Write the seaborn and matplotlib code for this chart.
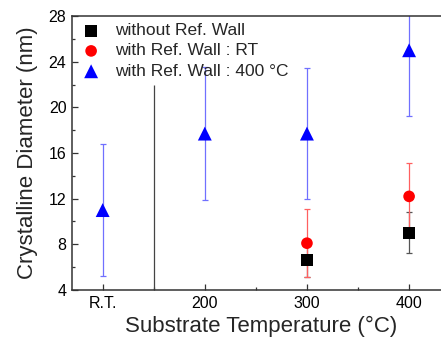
import pandas as pd
import seaborn as sns
import matplotlib.pyplot as plt
from matplotlib.ticker import MultipleLocator, FixedLocator

# data
temp_labels = ['R.T.', '200', '300', '400']
temp_pos = [100, 200, 300, 400]

no_wall_x = [300, 400]
no_wall_y = [6.6, 9.0]
no_wall_err = [1.5, 1.8]

wall_rt_x = [300, 400]
wall_rt_y = [8.1, 12.2]
wall_rt_err = [3.0, 2.95]

wall_400_x = [100, 200, 300, 400]
wall_400_y = [11.0, 17.7, 17.7, 25.0]
wall_400_err = [5.8, 5.8, 5.75, 5.8]

df = pd.concat([
    pd.DataFrame({'T': no_wall_x, 'D': no_wall_y, 'err': no_wall_err, 'series': 'without Ref. Wall'}),
    pd.DataFrame({'T': wall_rt_x, 'D': wall_rt_y, 'err': wall_rt_err, 'series': 'with Ref. Wall : RT'}),
    pd.DataFrame({'T': wall_400_x, 'D': wall_400_y, 'err': wall_400_err, 'series': 'with Ref. Wall : 400 \u00b0C'}),
], ignore_index=True)

sns.set_style("ticks")
plt.rcParams['font.family'] = ['Liberation Sans', 'DejaVu Sans']

fig = plt.figure(figsize=(4.41, 3.37), dpi=100)
ax = fig.add_axes([0.1633, 0.1395, 0.857, 0.813])

colors = {'without Ref. Wall': 'black', 'with Ref. Wall : RT': 'red', 'with Ref. Wall : 400 \u00b0C': 'blue'}
err_colors = {'without Ref. Wall': '#555555', 'with Ref. Wall : RT': '#ff6060', 'with Ref. Wall : 400 \u00b0C': '#7070ff'}
markers = {'without Ref. Wall': 's', 'with Ref. Wall : RT': 'o', 'with Ref. Wall : 400 \u00b0C': '^'}
sizes = {'without Ref. Wall': 75, 'with Ref. Wall : RT': 70, 'with Ref. Wall : 400 \u00b0C': 100}

# error bars first, behind the markers
for name, sub in df.groupby('series', sort=False):
    ax.errorbar(sub['T'], sub['D'], yerr=sub['err'], fmt='none', ecolor=err_colors[name],
                elinewidth=0.9, capsize=2.5, capthick=0.9, zorder=1)

# separator between R.T. and 200
ax.vlines(150, 4, 22, color='#444444', linewidth=0.9, zorder=1)

for name, sub in df.groupby('series', sort=False):
    sns.scatterplot(data=sub, x='T', y='D', marker=markers[name], color=colors[name],
                    s=sizes[name], edgecolor='none', label=name, ax=ax, zorder=3)

ax.set_xlim(70, 440)
ax.set_ylim(4, 28)
ax.xaxis.set_major_locator(FixedLocator(temp_pos))
ax.set_xticklabels(temp_labels)
ax.xaxis.set_minor_locator(FixedLocator([150, 250, 350]))
ax.yaxis.set_major_locator(MultipleLocator(4))
ax.yaxis.set_minor_locator(MultipleLocator(2))
ax.tick_params(which='both', direction='in', labelsize=11.5, colors='#333333', labelcolor='black')
ax.tick_params(which='major', length=4, width=0.9, pad=4)
ax.tick_params(which='minor', length=2.5, width=0.9)

for s in ['left', 'bottom', 'top']:
    ax.spines[s].set_visible(True)
    ax.spines[s].set_color('#333333')
    ax.spines[s].set_linewidth(1.1)
ax.spines['right'].set_visible(False)

ax.set_xlabel('Substrate Temperature (\u00b0C)', fontsize=16, labelpad=4)
ax.set_ylabel('Crystalline Diameter (nm)', fontsize=16, labelpad=8)

ax.legend(loc='upper left', frameon=False, fontsize=12.5, handletextpad=0.65,
          borderaxespad=0.15, labelspacing=0.3, markerscale=1.0,
          borderpad=0.25, handlelength=1.4)

plt.savefig('out.png', dpi=100)
